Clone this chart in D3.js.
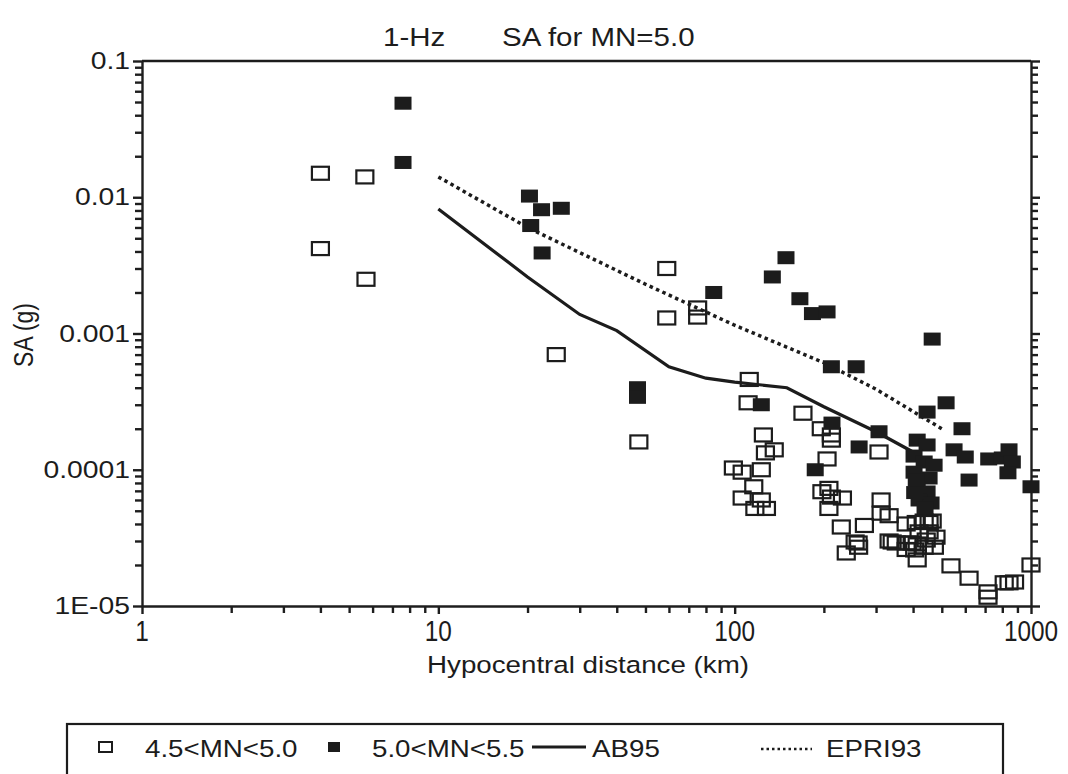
<!DOCTYPE html>
<html>
<head>
<meta charset="utf-8">
<title>1-Hz SA for MN=5.0</title>
<script src="https://d3js.org/d3.v7.min.js"></script>
<style>
  body { margin: 0; background: #fff; }
  svg { display: block; }
  .axis path, .axis line { stroke: #1e1e1e; }
</style>
</head>
<body>
<div id="chart"></div>
<script>
// distances (km) and SA (g)
var openDist = [4.0, 5.65, 4.0, 5.7, 25, 47.5, 59, 59, 75, 75,
  112, 111, 125, 127, 136, 99, 106, 123, 116, 106, 123, 117, 128,
  170, 196, 212, 212, 205, 307, 197, 208, 212, 231, 208, 229, 238, 255,
  274, 261, 262, 312, 312, 332, 340, 351, 332, 379, 410, 436, 453, 464,
  382, 397, 405, 413, 443, 478, 472, 436, 453, 419, 379, 413,
  537, 618, 716, 716, 812, 843, 880, 1000];
var openSA = [0.015, 0.0141, 0.0042, 0.0025, 0.0007, 0.00016, 0.0030, 0.0013, 0.00154, 0.00132,
  0.00046, 0.00031, 0.00018, 0.000133, 0.00014, 0.000103, 0.000096, 0.0001, 0.000075, 0.000062, 0.00006, 0.000052, 0.000052,
  0.00026, 0.0002, 0.00018, 0.000165, 0.00012, 0.000135, 0.000069, 0.000073, 0.000063, 0.000062, 0.000052, 0.000038, 0.0000245, 0.0000295,
  0.000039, 0.000029, 0.000027, 0.00006, 0.000048, 0.000046, 0.0000295, 0.000029, 0.00003, 0.00004, 0.000041, 0.000042, 0.000041, 0.000042,
  0.000029, 0.000029, 0.0000258, 0.0000218, 0.0000305, 0.000032, 0.000027, 0.000027, 0.000035, 0.000035, 0.000026, 0.0000285,
  0.0000197, 0.000016, 0.0000127, 0.0000116, 0.0000148, 0.0000148, 0.000015, 0.00002];

var filledDist = [7.6, 7.6, 20.3, 22.3, 26, 20.5, 22.4, 47, 47, 85,
  149, 134, 166, 183, 205, 212, 257, 464, 123, 213, 187, 263, 307,
  446, 517, 585, 550, 600, 618, 720, 800, 843, 865, 836, 1000,
  413, 446, 403, 436, 471, 403, 453, 413, 446, 419, 460, 439, 410, 405];
var filledSA = [0.049, 0.018, 0.0102, 0.0081, 0.0083, 0.0062, 0.0039, 0.0004, 0.00034, 0.0020,
  0.0036, 0.0026, 0.0018, 0.0014, 0.00144, 0.00057, 0.00057, 0.00091, 0.0003, 0.00022, 0.0001, 0.000147, 0.00019,
  0.000265, 0.00031, 0.0002, 0.00014, 0.000124, 0.000084, 0.00012, 0.000122, 0.00014, 0.000114, 0.000095, 0.000075,
  0.000165, 0.000152, 0.000126, 0.000114, 0.000108, 0.000096, 0.000087, 0.0000735, 0.0000687, 0.00006, 0.000057, 0.0000524, 0.000084, 0.000068];

var ab95Dist = [10, 20, 30, 40, 60, 80, 100, 150, 200, 300, 400];
var ab95SA = [0.0082, 0.0026, 0.00138, 0.00105, 0.00057, 0.00047, 0.00044, 0.0004, 0.00029, 0.00019, 0.000135];

var epriDist = [10, 20, 50, 100, 200, 300, 500];
var epriSA = [0.0141, 0.0060, 0.0023, 0.00115, 0.00061, 0.00039, 0.0002];

var yTickLabels = ["1E-05", "0.0001", "0.001", "0.01", "0.1"];
var xTickLabels = ["1", "10", "100", "1000"];
var legendLabels = ["4.5<MN<5.0", "5.0<MN<5.5", "AB95", "EPRI93"];

var W = 1068, H = 774;
var mLeft = 142, mRight = 1031, mTop = 61, mBottom = 606;
var ink = "#1c1c1c";
var font = "'Liberation Sans', Arial, Helvetica, sans-serif";
var sx = 1.18; // the scan is stretched sideways

var svg = d3.select("#chart").append("svg")
  .attr("width", W).attr("height", H)
  .style("background", "#fff");

var x = d3.scaleLog().domain([1, 1000]).range([mLeft, mRight]);
var y = d3.scaleLog().domain([1e-5, 0.1]).range([mBottom, mTop]);

function label(px, py, str, anchor, size, scaleX, rot) {
  var g = svg.append("g")
    .attr("transform", "translate(" + px + "," + py + ") scale(" + scaleX + ",1)" + (rot ? " rotate(" + rot + ")" : ""));
  g.append("text")
    .attr("text-anchor", anchor)
    .attr("font-family", font)
    .attr("font-size", size)
    .attr("fill", ink)
    .text(str);
  return g;
}

function isDecade(v) {
  var l = Math.log10(v);
  return Math.abs(l - Math.round(l)) < 1e-6;
}

// axes - ticks only, labels drawn separately
var yAxisL = svg.append("g").attr("class", "axis")
  .attr("transform", "translate(" + mLeft + ",0)")
  .call(d3.axisLeft(y).ticks(10).tickFormat("").tickSizeOuter(0));
var yAxisR = svg.append("g").attr("class", "axis")
  .attr("transform", "translate(" + mRight + ",0)")
  .call(d3.axisRight(y).ticks(10).tickFormat("").tickSizeOuter(0));
var xAxisB = svg.append("g").attr("class", "axis")
  .attr("transform", "translate(0," + mBottom + ")")
  .call(d3.axisBottom(x).ticks(10).tickFormat("").tickSizeOuter(0));

yAxisL.selectAll(".tick line").attr("x2", function(d) { return isDecade(d) ? -9 : -7; });
yAxisR.selectAll(".tick line").attr("x2", function(d) { return isDecade(d) ? 9 : 7; });
xAxisB.selectAll(".tick line").attr("y2", function(d) { return isDecade(d) ? 8 : 7; });
svg.selectAll(".axis path, .axis line").attr("stroke-width", 2.4);

// top frame line
svg.append("line")
  .attr("x1", mLeft).attr("x2", mRight).attr("y1", mTop).attr("y2", mTop)
  .attr("stroke", ink).attr("stroke-width", 2.4);

// tick labels
yTickLabels.forEach(function(t) {
  label(130, y(+t) + 8, t, "end", 24, sx);
});
xTickLabels.forEach(function(t) {
  label(x(+t), 641, t, "middle", 29, 0.84);
});

// titles
label(383, 46, "1-Hz", "start", 25, sx);
label(502, 46, "SA for MN=5.0", "start", 25, sx);
label(588, 673, "Hypocentral distance (km)", "middle", 23.5, sx);
label(33, 335, "SA (g)", "middle", 23, sx, -90);

// open squares
svg.append("g").selectAll("rect")
  .data(d3.zip(openDist, openSA))
  .join("rect")
    .attr("x", function(d) { return x(d[0]) - 8.5; })
    .attr("y", function(d) { return y(d[1]) - 6.5; })
    .attr("width", 17).attr("height", 13)
    .attr("fill", "none").attr("stroke", ink).attr("stroke-width", 2.2);

var line = d3.line()
  .x(function(d) { return x(d[0]); })
  .y(function(d) { return y(d[1]); });

svg.append("path")
  .datum(d3.zip(ab95Dist, ab95SA))
  .attr("d", line)
  .attr("fill", "none").attr("stroke", ink).attr("stroke-width", 3.2);

svg.append("path")
  .datum(d3.zip(epriDist, epriSA))
  .attr("d", line)
  .attr("fill", "none").attr("stroke", ink).attr("stroke-width", 3.5)
  .attr("stroke-dasharray", "3.5,3.5");

// filled squares
svg.append("g").selectAll("rect")
  .data(d3.zip(filledDist, filledSA))
  .join("rect")
    .attr("x", function(d) { return x(d[0]) - 8.5; })
    .attr("y", function(d) { return y(d[1]) - 6.5; })
    .attr("width", 17).attr("height", 13)
    .attr("fill", ink);

// legend
var lg = svg.append("g");
lg.append("rect")
  .attr("x", 67).attr("y", 724).attr("width", 936).attr("height", 70)
  .attr("fill", "none").attr("stroke", ink).attr("stroke-width", 2.2);
lg.append("rect").attr("x", 99).attr("y", 742).attr("width", 13).attr("height", 10)
  .attr("fill", "none").attr("stroke", ink).attr("stroke-width", 2);
lg.append("rect").attr("x", 328).attr("y", 742).attr("width", 12).attr("height", 10)
  .attr("fill", ink);
lg.append("line").attr("x1", 532).attr("x2", 586).attr("y1", 747).attr("y2", 747)
  .attr("stroke", ink).attr("stroke-width", 3);
lg.append("line").attr("x1", 761).attr("x2", 812).attr("y1", 749).attr("y2", 749)
  .attr("stroke", ink).attr("stroke-width", 2.5).attr("stroke-dasharray", "2.5,3");
label(145, 757, legendLabels[0], "start", 23.5, sx);
label(372, 757, legendLabels[1], "start", 23.5, sx);
label(592, 757, legendLabels[2], "start", 23.5, sx);
label(826, 757, legendLabels[3], "start", 23.5, sx);
</script>
</body>
</html>
